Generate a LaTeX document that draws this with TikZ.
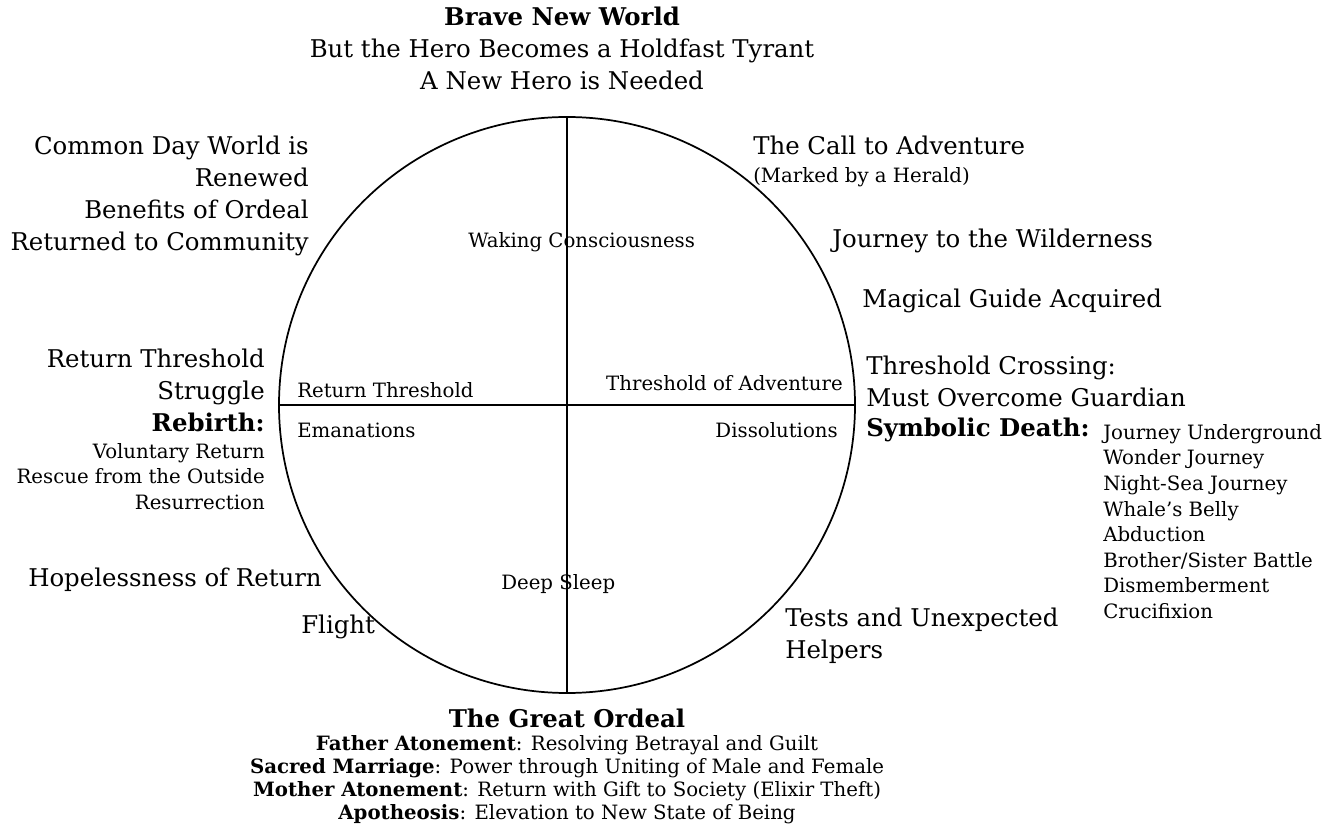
\documentclass[tikz,border=0pt]{standalone}
\usepackage{fontspec}
\setmainfont{DejaVu Serif}
\usetikzlibrary{positioning}
\tikzset{
  bigtxt/.style={inner sep=0pt, font=\fontsize{18.3}{24}\selectfont},
  smalltxt/.style={inner sep=0pt, font=\fontsize{14.8}{19.2}\selectfont},
  wheelline/.style={line width=1.3pt, black},
}

\begin{document}
\begin{tikzpicture}[x=0.75pt, y=-0.75pt]
  \useasboundingbox (0,0) rectangle (1338,837);
  % the cycle
  \node[circle, draw, wheelline, minimum size=432pt, inner sep=0pt] (wheel) at (567,405) {};
  \draw[wheelline] (wheel.north) -- (wheel.south);
  \draw[wheelline] (wheel.west) -- (wheel.east);
  % inner labels
  \node[smalltxt, anchor=base west] (waking) at (468,248) {Waking Consciousness};
  \node[smalltxt, anchor=base west] (innerret) at (297,398) {Return Threshold};
  \node[smalltxt, anchor=base east] (inneradv) at (843,391) {Threshold of Adventure};
  \node[smalltxt, anchor=base west] (emanations) at (297,438) {Emanations};
  \node[smalltxt, anchor=base east] (dissolutions) at (838,438) {Dissolutions};
  \node[smalltxt, anchor=base west] (deepsleep) at (501,589) {Deep Sleep};
  % top
  \node[bigtxt, anchor=north, align=center] (brave) at (562,7)
    {\textbf{Brave New World}\\But the Hero Becomes a Holdfast Tyrant\\A New Hero is Needed};
  % right side
  \node[bigtxt, anchor=base west] (call) at (753,155) {The Call to Adventure};
  \node[smalltxt, anchor=base west] (herald) at (753,183) {(Marked by a Herald)};
  \node[bigtxt, anchor=base west] (wilderness) at (832,248) {Journey to the Wilderness};
  \node[bigtxt, anchor=base west] (guide) at (862,308) {Magical Guide Acquired};
  \node[bigtxt, anchor=north west, align=left] (crossing) at (866,356)
    {Threshold Crossing:\\Must Overcome Guardian};
  \node[bigtxt, anchor=base west] (symdeath) at (866,437) {\textbf{Symbolic Death:}};
  \node[smalltxt, anchor=north west, align=left] (deathlist) at (1103,424)
    {Journey Underground\\Wonder Journey\\Night-Sea Journey\\Whale's Belly\\Abduction\\Brother/Sister Battle\\Dismemberment\\Crucifixion};
  \node[bigtxt, anchor=north west, align=left] (tests) at (785,608)
    {Tests and Unexpected\\Helpers};
  % left side
  \node[bigtxt, anchor=north east, align=right] (commonday) at (309,136)
    {Common Day World is\\Renewed\\Benefits of Ordeal\\Returned to Community};
  \node[bigtxt, anchor=north east, align=right] (retthr) at (265,349)
    {Return Threshold\\Struggle\\\textbf{Rebirth:}};
  \node[smalltxt, anchor=north east, align=right] (rebirthlist) at (265,443)
    {Voluntary Return\\Rescue from the Outside\\Resurrection};
  \node[bigtxt, anchor=base east] (hopeless) at (322,586) {Hopelessness of Return};
  \node[bigtxt, anchor=base west] (flight) at (301,633) {Flight};
  % bottom
  \node[bigtxt, anchor=base] (ordeal) at (567,727) {\textbf{The Great Ordeal}};
  \node[smalltxt, anchor=north, align=center, font=\fontsize{14.8}{17.25}\selectfont] (ordeallist) at (567,735)
    {\textbf{Father Atonement}: Resolving Betrayal and Guilt\\
     \textbf{Sacred Marriage}: Power through Uniting of Male and Female\\
     \textbf{Mother Atonement}: Return with Gift to Society (Elixir Theft)\\
     \textbf{Apotheosis}: Elevation to New State of Being};
\end{tikzpicture}
\end{document}
